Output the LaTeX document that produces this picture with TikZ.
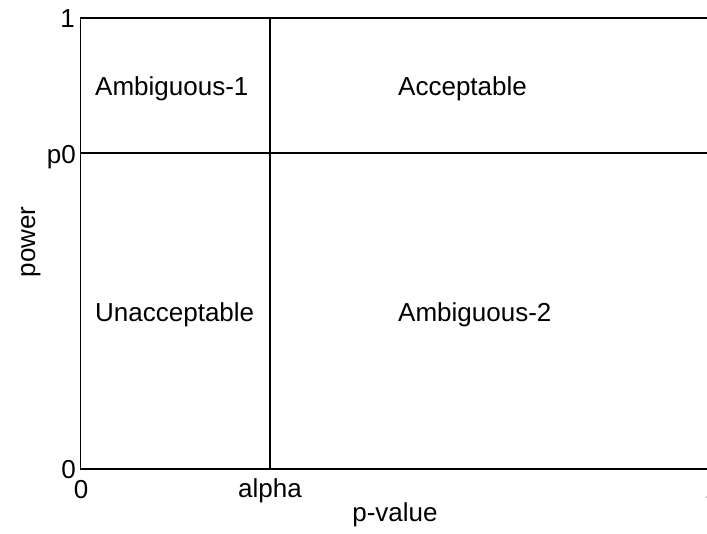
\documentclass[tikz,border=0pt]{standalone}
\usepackage{fontspec}
\setmainfont{Liberation Sans}
\begin{document}
\begin{tikzpicture}[x=1pt,y=-1pt,
  axisline/.style={line width=1.5pt,black},
  lbl/.style={inner sep=0pt,font=\fontsize{26}{30}\selectfont},
]
\useasboundingbox (0,0) rectangle (707,533);
% frame corners and dividing lines
\coordinate (tl) at (80.5,18);
\coordinate (tr) at (707,18);
\coordinate (bl) at (80.5,469);
\coordinate (br) at (707,469);
\coordinate (atop) at (270,18);
\coordinate (abot) at (270,469);
\coordinate (pleft) at (80.5,153);
\coordinate (pright) at (707,153);
\draw[axisline] (tr) -- (tl) -- (bl) -- (br);
\draw[axisline] (atop) -- (abot);
\draw[axisline] (pleft) -- (pright);
% region labels
\node[lbl,anchor=base west] (amb1) at (95,95) {Ambiguous-1};
\node[lbl,anchor=base west] (acc) at (398,95) {Acceptable};
\node[lbl,anchor=base west] (unacc) at (95,321) {Unacceptable};
\node[lbl,anchor=base west] (amb2) at (398,321) {Ambiguous-2};
% tick labels
\node[lbl,anchor=base east] (y1) at (75,27) {1};
\node[lbl,anchor=base east] (yp0) at (76,163) {p0};
\node[lbl,anchor=base east] (y0) at (76,478) {0};
\node[lbl,anchor=base] (x0) at (81,498) {0};
\node[lbl,anchor=base] (xalpha) at (270,497) {alpha};
\node[lbl,anchor=base] (x1) at (712,498) {1};
% axis titles
\node[lbl,anchor=base] (xtitle) at (395,521) {p-value};
\node[lbl,anchor=base,rotate=90] (ytitle) at (35,242) {power};
\end{tikzpicture}
\end{document}
